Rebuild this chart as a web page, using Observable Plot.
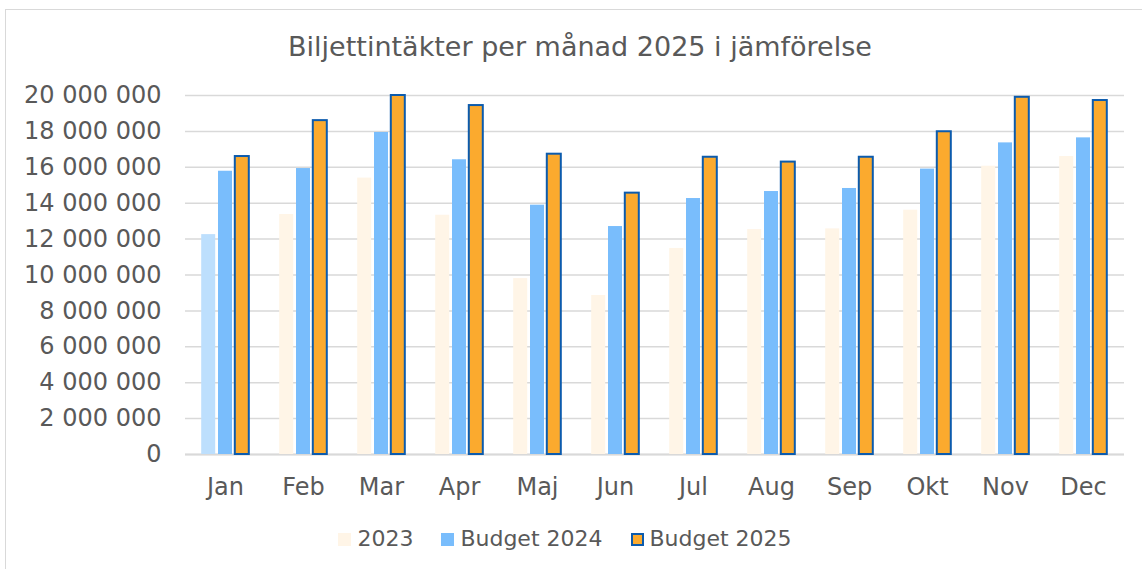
<!DOCTYPE html>
<html>
<head>
<meta charset="utf-8">
<script src="https://cdn.jsdelivr.net/npm/d3@7"></script>
<script src="https://cdn.jsdelivr.net/npm/@observablehq/plot@0.6"></script>
<style>
  html, body { margin: 0; padding: 0; background: #fff; }
  body { width: 1142px; height: 569px; position: relative; overflow: hidden; font-family: "DejaVu Sans", Verdana, sans-serif; color: #595959; }
  #frame { position: absolute; left: 5px; top: 9px; width: 1150px; height: 600px; border: 1.5px solid #d9d9d9; box-sizing: border-box; }
  #title { position: absolute; left: 0; width: 1160px; top: 29px; text-align: center; font-size: 27px; line-height: 36px; white-space: nowrap; }
  #chart { position: absolute; left: 0; top: 70px; }
  #legend { position: absolute; left: 0; width: 1142px; top: 524px; display: flex; justify-content: center; font-size: 22px; line-height: 30px; padding-right: 12px; box-sizing: border-box; }
  .item { display: flex; align-items: center; margin: 0 14px; }
  .sw { width: 13px; height: 13px; margin-right: 6px; box-sizing: border-box; }
</style>
</head>
<body>
<div id="frame"></div>
<div id="title">Biljettintäkter per månad 2025 i jämförelse</div>
<div id="chart"></div>
<div id="legend"></div>
<script>
const months = ["Jan","Feb","Mar","Apr","Maj","Jun","Jul","Aug","Sep","Okt","Nov","Dec"];
const series = ["2023","Budget 2024","Budget 2025"];
const values2023 = [12250000,13370000,15400000,13330000,9800000,8860000,11480000,12530000,12570000,13610000,16060000,16600000];
const budget2024 = [15780000,15930000,17940000,16420000,13890000,12700000,14260000,14650000,14820000,15900000,17360000,17640000];
const budget2025 = [16600000,18600000,20000000,19440000,16730000,14560000,16560000,16290000,16560000,17980000,19900000,19720000];
const yTicks = [0,2000000,4000000,6000000,8000000,10000000,12000000,14000000,16000000,18000000,20000000];

const c2023 = "#fff5e7", c2023jan = "#bddffd", c2024 = "#79bdfc", c2025 = "#fbaa2e", c2025stroke = "#0c5bad";

const rows = months.map((m, i) => ({month: m, v2023: values2023[i], v2024: budget2024[i], v2025: budget2025[i]}));
const fmt = d => d3.format(",")(d).replace(/,/g, " ");

const step = (1124 - 185) / 12;
const bw = 14.4;
const off = 16.8;
const pi = 1 - bw / step;

const chart = Plot.plot({
  width: 1142,
  height: 440,
  marginLeft: 185,
  marginRight: 18,
  marginTop: 25,
  marginBottom: 56,
  style: {fontFamily: "'DejaVu Sans', Verdana, sans-serif", fontSize: "24px", color: "#595959", background: "transparent"},
  x: {domain: months, paddingInner: pi, paddingOuter: pi / 2, tickSize: 0, tickPadding: 23, label: null},
  y: {domain: [0, 20000000], ticks: yTicks, tickFormat: fmt, tickSize: 0, tickPadding: 24, label: null},
  marks: [
    Plot.ruleY(yTicks, {stroke: "#d9d9d9", strokeWidth: 1.5}),
    Plot.ruleY([0], {stroke: "#d9d9d9", strokeWidth: 2}),
    Plot.barY(rows, {x: "month", y: "v2023", dx: -off, fill: d => d.month === "Jan" ? c2023jan : c2023}),
    Plot.barY(rows, {x: "month", y: "v2024", fill: c2024}),
    Plot.barY(rows, {x: "month", y: "v2025", dx: off, fill: c2025, stroke: c2025stroke, strokeWidth: 2})
  ]
});
document.getElementById("chart").appendChild(chart);

const swatches = [
  {fill: c2023, stroke: "none"},
  {fill: c2024, stroke: "none"},
  {fill: c2025, stroke: c2025stroke}
];
const legend = document.getElementById("legend");
series.forEach((s, i) => {
  const it = document.createElement("div");
  it.className = "item";
  const sw = document.createElement("div");
  sw.className = "sw";
  sw.style.background = swatches[i].fill;
  if (swatches[i].stroke !== "none") sw.style.border = "2px solid " + swatches[i].stroke;
  const t = document.createElement("span");
  t.textContent = s;
  it.appendChild(sw);
  it.appendChild(t);
  legend.appendChild(it);
});
</script>
</body>
</html>
